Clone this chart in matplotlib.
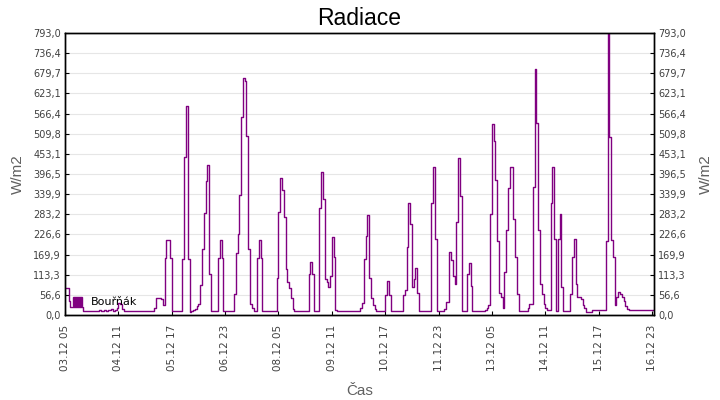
import numpy as np
import matplotlib
matplotlib.use("Agg")
import matplotlib.pyplot as plt
from matplotlib.patches import Patch
from datetime import datetime, timedelta

# Hodinove hodnoty radiace (W/m2) od 03.12 05:00
radiace = [
    77, 77, 40, 22, 22, 22, 22, 22, 22, 22,
    10, 10, 10, 10, 10, 10, 10, 10, 12, 14,
    12, 10, 13, 10, 14, 15, 16, 12, 14, 20,
    33, 30, 18, 12, 10, 10, 10, 10, 10, 10,
    10, 10, 10, 10, 10, 10, 10, 10, 10, 12,
    20, 49, 49, 49, 45, 27, 160, 212, 212, 160,
    10, 10, 10, 10, 12, 10, 157, 444, 588, 157,
    8, 12, 15, 18, 24, 32, 83, 187, 286, 378,
    422, 114, 10, 10, 10, 10, 161, 212, 161, 10,
    10, 10, 10, 10, 10, 60, 174, 229, 337, 558,
    667, 659, 502, 187, 32, 20, 10, 10, 161, 212,
    161, 10, 10, 10, 10, 10, 10, 10, 10, 105,
    290, 384, 351, 276, 130, 93, 77, 48, 18, 10,
    10, 10, 10, 10, 10, 10, 10, 114, 148, 114,
    10, 10, 10, 302, 401, 326, 102, 93, 78, 111,
    218, 163, 13, 12, 12, 12, 12, 12, 12, 12,
    12, 12, 12, 12, 12, 12, 20, 34, 158, 222,
    281, 104, 47, 29, 18, 12, 12, 12, 12, 12,
    55, 97, 55, 12, 12, 12, 12, 12, 12, 12,
    55, 69, 191, 314, 255, 80, 102, 133, 62, 12,
    12, 12, 12, 12, 12, 12, 315, 415, 213, 12,
    12, 12, 12, 17, 36, 36, 177, 154, 110, 86,
    262, 441, 334, 12, 12, 12, 116, 147, 81, 12,
    12, 12, 12, 12, 12, 12, 14, 20, 29, 283,
    537, 490, 380, 207, 62, 50, 20, 121, 238, 358,
    417, 417, 271, 163, 60, 12, 12, 12, 12, 12,
    20, 30, 30, 359, 692, 541, 238, 88, 60, 32,
    20, 13, 13, 314, 415, 213, 12, 215, 283, 80,
    12, 12, 12, 12, 60, 163, 213, 88, 50, 50,
    45, 28, 20, 8, 8, 8, 13, 13, 13, 13,
    13, 13, 13, 13, 208, 793, 500, 212, 163, 29,
    50, 66, 60, 50, 38, 24, 17, 13, 13, 13,
    13, 13, 13, 13, 13, 13, 13, 13, 13, 13,
    13, 13,
]
start = datetime(2023, 12, 3, 5)
ymax = 793.0
nazev_rady = "Bouřňák"

hodiny = np.arange(len(radiace))
barva = "#800080"

fig = plt.figure(figsize=(7.2, 4.0), dpi=100)
ax = fig.add_axes([65 / 720, 1 - 315 / 400, 589 / 720, 282 / 400])

ax.plot(hodiny, radiace, drawstyle="steps-post", color=barva, lw=1.0)

ax.set_xlim(0, 331.1)
ax.set_ylim(0, ymax)

# osa y - 14 intervalu, desetinna carka
yticks = np.linspace(0, ymax, 15)
ylabels = [("%.1f" % v).replace(".", ",") for v in yticks]
ax.set_yticks(yticks)
ax.set_yticklabels(ylabels)
ax.grid(axis="y", color="#e6e6e6", lw=0.8)
ax.set_axisbelow(True)

# osa x - kazdych 30 hodin
xticks = np.arange(0, 331, 30)
xlabels = [(start + timedelta(hours=int(h))).strftime("%d.%m %H") for h in xticks]
ax.set_xticks(xticks)
ax.set_xticklabels(xlabels, rotation=90)

ax2 = ax.twinx()
ax2.set_ylim(0, ymax)
ax2.set_yticks(yticks)
ax2.set_yticklabels(ylabels)

for a in (ax, ax2):
    a.tick_params(direction="in", length=3, width=0.8, labelsize=7, labelcolor="#404040", pad=3)
    for s in a.spines.values():
        s.set_linewidth(1.0)
ax.tick_params(axis="x", labelsize=7.5, pad=7)

lab_font = dict(family="Liberation Sans", size=11, color="#606060")
ax.set_ylabel("W/m2", labelpad=6, **lab_font)
ax2.set_ylabel("W/m2", labelpad=9, **lab_font)
ax.set_xlabel("Čas", labelpad=9, **lab_font)
ax.set_title("Radiace", family="Liberation Sans", size=16.5, pad=6)

ax.legend(handles=[Patch(facecolor=barva, edgecolor=barva, label=nazev_rady)],
          loc="lower left", bbox_to_anchor=(0.0, 0.0), frameon=False,
          handlelength=0.8, handleheight=0.8, handletextpad=0.8,
          fontsize=8, borderaxespad=0.3)

fig.savefig("out.png", dpi=100)
